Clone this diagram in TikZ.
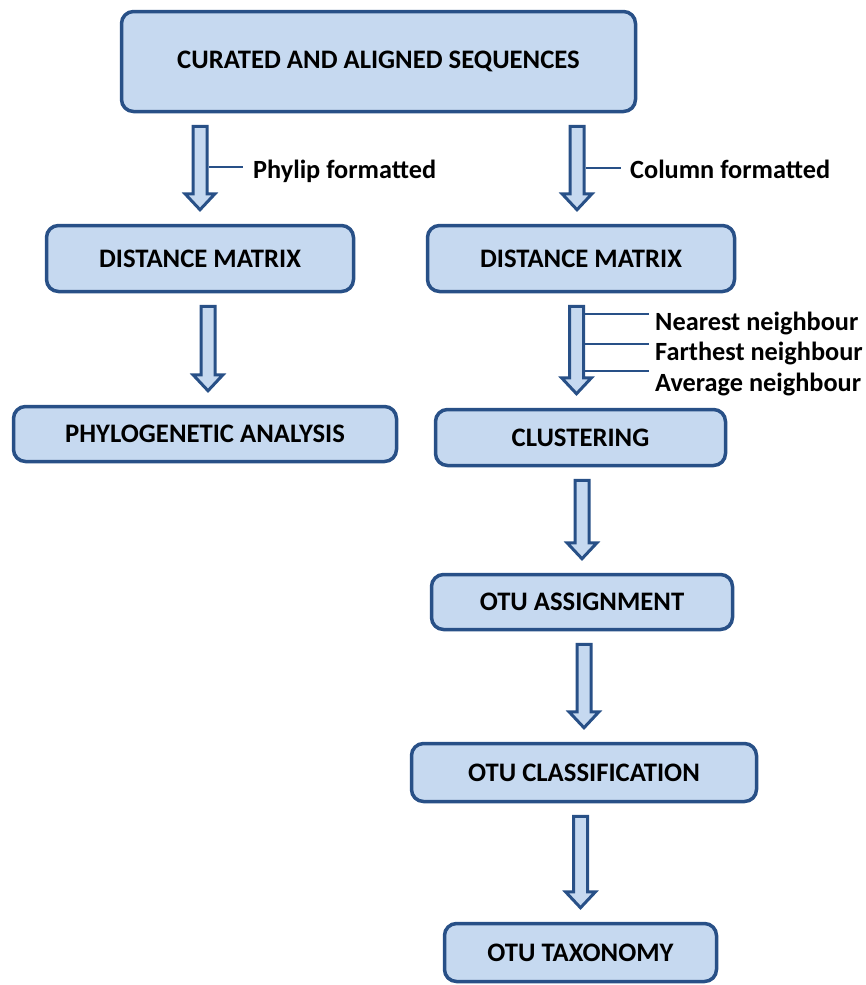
\documentclass[tikz,border=0pt]{standalone}
\usepackage{fontspec}
\setmainfont{Carlito}
\usetikzlibrary{calc,positioning}
\definecolor{boxfill}{RGB}{198,217,240}
\definecolor{boxline}{RGB}{40,80,135}

\tikzset{
  stagebox/.style={draw=boxline, fill=boxfill, line width=3.5pt, rounded corners=12pt,
    font=\fontsize{26.7}{31}\selectfont\bfseries, inner sep=0pt},
  barrow/.style={draw=boxline, fill=boxfill, line width=3pt, line join=miter},
  tag/.style={font=\fontsize{26.3}{31}\selectfont\bfseries, anchor=west, inner sep=0pt},
  tick/.style={draw=boxline, line width=1.5pt}
}

% block arrow between two stages, x taken from the target (plus offset)
\newcommand{\blockarrow}[3][0]{%
  \draw[barrow] let \p1=(#2.south), \p2=($(#3.north)+(#1,0)$) in
    (\x2-7pt,\y1-13pt) -- (\x2+7pt,\y1-13pt) -- (\x2+7pt,\y2+30pt) -- (\x2+15pt,\y2+30pt)
    -- (\x2,\y2+14pt) -- (\x2-15pt,\y2+30pt) -- (\x2-7pt,\y2+30pt) -- cycle;}

\begin{document}
\begin{tikzpicture}[x=1pt, y=-1pt]
\useasboundingbox (0,0) rectangle (865,985);

% Stages
\node[stagebox, minimum width=514, minimum height=100] (seqs) at (378.5,61.5) {CURATED AND ALIGNED SEQUENCES};
\node[stagebox, minimum width=307, minimum height=66] (dmleft) at (200,258.5) {DISTANCE MATRIX};
\node[stagebox, minimum width=307, minimum height=66] (dmright) at (581,258.5) {DISTANCE MATRIX};
\node[stagebox, minimum width=383, minimum height=55] (phylo) at (205,434) {PHYLOGENETIC ANALYSIS};
\node[stagebox, minimum width=290, minimum height=56] (clust) at (580.5,437.5) {CLUSTERING};
\node[stagebox, minimum width=301, minimum height=55] (otuassign) at (582,602) {OTU ASSIGNMENT};
\node[stagebox, minimum width=345, minimum height=58] (otuclass) at (584,772.5) {OTU CLASSIFICATION};
\node[stagebox, minimum width=272, minimum height=58] (otutax) at (580.5,952.5) {OTU TAXONOMY};

% Arrows
\blockarrow{seqs}{dmleft}
\blockarrow[-4]{seqs}{dmright}
\blockarrow[3]{dmleft}{phylo}
\blockarrow[-4]{dmright}{clust}
\blockarrow{clust}{otuassign}
\blockarrow{otuassign}{otuclass}
\blockarrow{otuclass}{otutax}

% Labels
\node[tag] (phylip) at (253,171) {Phylip formatted};
\node[tag] (column) at (630,169) {Column formatted};
\node[tag] (nearest) at (655,323) {Nearest neighbour};
\node[tag] (farthest) at (655,353) {Farthest neighbour};
\node[tag] (average) at (655,384) {Average neighbour};

\coordinate (phylipfoot) at (209,167);
\coordinate (columnfoot) at (586,168);
\coordinate (nearestfoot) at (583,314);
\coordinate (farthestfoot) at (583,344);
\coordinate (averagefoot) at (583,371);

\draw[tick, shorten >=10pt] (phylipfoot) -- (phylipfoot -| phylip.west);
\draw[tick, shorten >=9pt] (columnfoot) -- (columnfoot -| column.west);
\foreach \n in {nearest,farthest,average}
  \draw[tick, shorten >=6pt] (\n foot) -- (\n foot -| \n.west);
\end{tikzpicture}
\end{document}
